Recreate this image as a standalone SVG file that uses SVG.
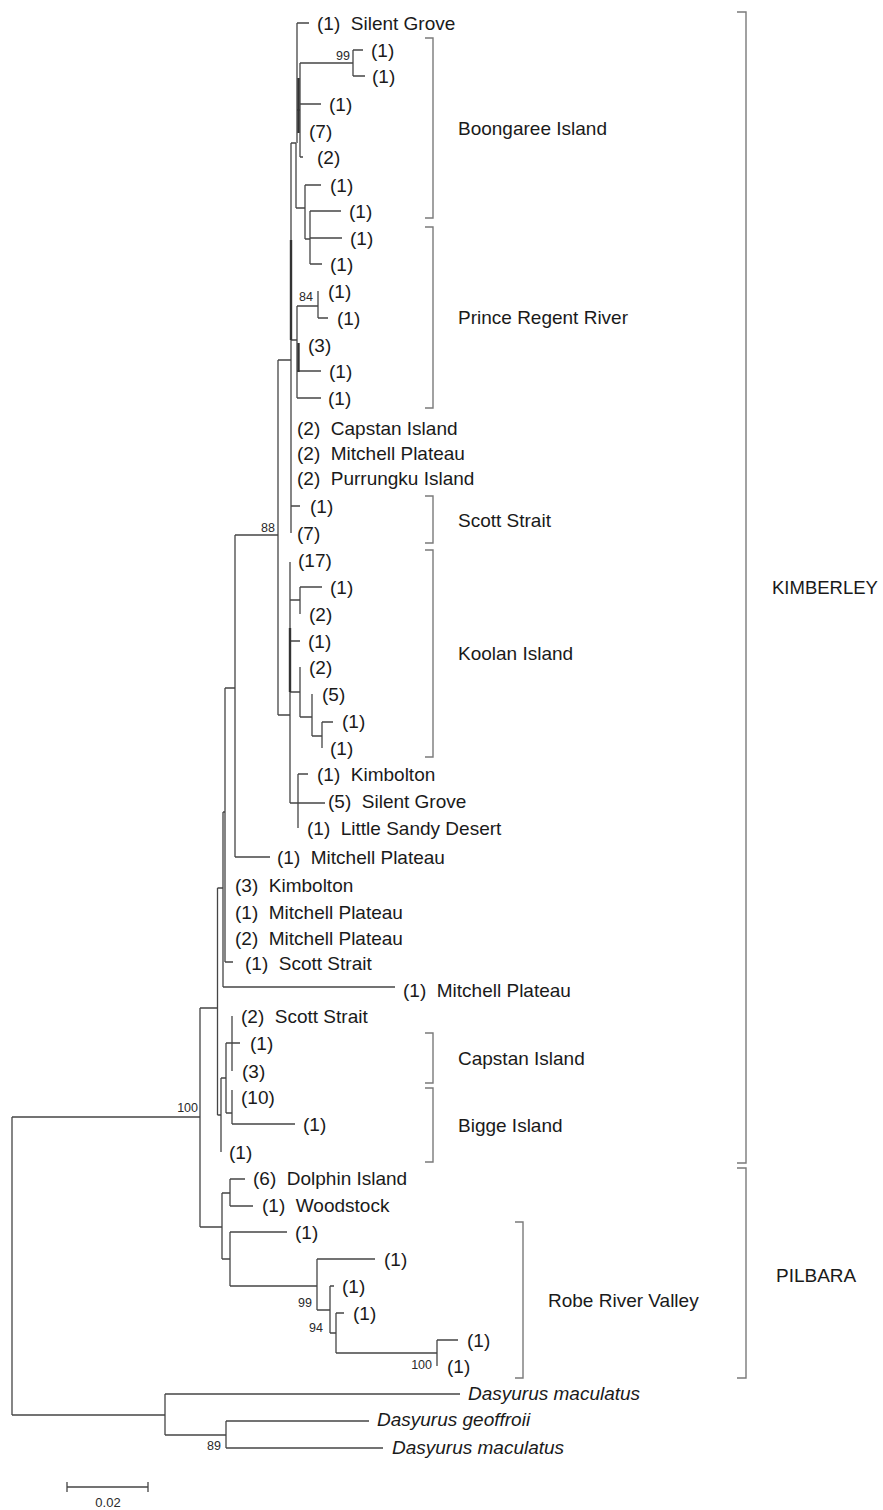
<svg xmlns="http://www.w3.org/2000/svg" width="883" height="1510" viewBox="0 0 883 1510">
<style>
.b{fill:none;stroke:#454545;stroke-width:1.3}
.bb{fill:none;stroke:#333;stroke-width:2.4}
.k{fill:none;stroke:#7a7a7a;stroke-width:1.4}
.t{font-family:"Liberation Sans",Arial,sans-serif;font-size:19px;fill:#1a1a1a;white-space:pre}
.i{font-style:italic}
.s{font-family:"Liberation Sans",Arial,sans-serif;font-size:12.5px;fill:#2a2a2a;text-anchor:end}
</style>
<rect width="883" height="1510" fill="#fff"/>
<g id="connectors">
<path class="b" d="M12,1117V1415M12,1117H200M12,1415H165"/>
<path class="b" d="M200,1008V1227M200,1008H217.5M200,1227H222"/>
<path class="b" d="M217.5,888V1115M217.5,888H223M217.5,1115H221"/>
<path class="b" d="M223,812V987M223,987H395M223,812H225"/>
<path class="b" d="M225,688V962M225,688H235M225,962H233"/>
<path class="b" d="M235,535V857M235,535H278M235,857H270"/>
<path class="b" d="M278,360V715M278,360H291M278,715H290"/>
<path class="b" d="M291,143V533M291,143H296M291,340H297M291,506H300"/>
<path class="bb" d="M291,240V340"/>
<path class="b" d="M297,23V143M297,23H309M297,110H300"/>
<path class="b" d="M300,63V157M300,104H321M300,157H303"/>
<path class="bb" d="M298.5,78V133"/>
<path class="b" d="M300,63H353M353,50V76M353,50H363M353,76H365"/>
<path class="b" d="M296,143V208M296,208H305"/>
<path class="b" d="M305,185V239M305,185H321M305,239H310"/>
<path class="b" d="M310,211V264M310,211H341M310,238H342M310,264H322"/>
<path class="b" d="M297,306V398M297,306H318M297,371H321M297,398H321"/>
<path class="bb" d="M298.5,343V372"/>
<path class="b" d="M318,291V318M318,318H328"/>
<path class="b" d="M290,562V803M290,600H300M290,641H300M290,692H300M290,803H325"/>
<path class="bb" d="M290,628V692"/>
<path class="b" d="M300,587V614M300,587H322"/>
<path class="b" d="M300,667V717M300,717H312"/>
<path class="b" d="M312,694V736M312,736H322"/>
<path class="b" d="M322,722V748M322,722H333"/>
<path class="b" d="M298,774V828M298,774H308"/>
<path class="b" d="M221,1078V1152M221,1078H226"/>
<path class="b" d="M226,1043V1113M226,1043H240M226,1113H232"/>
<path class="b" d="M232,1016V1071"/>
<path class="b" d="M232,1090V1124M232,1124H295"/>
<path class="b" d="M222,1193V1259M222,1193H230M222,1259H230"/>
<path class="b" d="M230,1179V1206M230,1179H245M230,1206H253"/>
<path class="b" d="M230,1232V1286M230,1232H287M230,1286H317"/>
<path class="b" d="M317,1259V1310M317,1259H375M317,1310H330"/>
<path class="b" d="M330,1286V1333M330,1286H334M330,1333H336"/>
<path class="b" d="M336,1313V1353M336,1313H344M336,1353H437"/>
<path class="b" d="M437,1340V1366M437,1340H458"/>
<path class="b" d="M165,1394V1435M165,1394H460M165,1435H226"/>
<path class="b" d="M226,1421V1448M226,1421H369M226,1448H383"/>
</g>
<g id="support">
<text class="s" x="350" y="60">99</text>
<text class="s" x="313" y="301">84</text>
<text class="s" x="275" y="532">88</text>
<text class="s" x="198" y="1112">100</text>
<text class="s" x="312" y="1307">99</text>
<text class="s" x="323" y="1332">94</text>
<text class="s" x="432" y="1369">100</text>
<text class="s" x="221" y="1450">89</text>
</g>
<g id="tips">
<text class="t" x="317" y="29.5">(1)  Silent Grove</text>
<text class="t" x="371" y="56.5">(1)</text>
<text class="t" x="372" y="82.5">(1)</text>
<text class="t" x="329" y="110.5">(1)</text>
<text class="t" x="309" y="137.5">(7)</text>
<text class="t" x="317" y="163.5">(2)</text>
<text class="t" x="330" y="191.5">(1)</text>
<text class="t" x="349" y="217.5">(1)</text>
<text class="t" x="350" y="244.5">(1)</text>
<text class="t" x="330" y="270.5">(1)</text>
<text class="t" x="328" y="297.5">(1)</text>
<text class="t" x="337" y="324.5">(1)</text>
<text class="t" x="308" y="351.5">(3)</text>
<text class="t" x="329" y="377.5">(1)</text>
<text class="t" x="328" y="404.5">(1)</text>
<text class="t" x="297" y="434.5">(2)  Capstan Island</text>
<text class="t" x="297" y="459.5">(2)  Mitchell Plateau</text>
<text class="t" x="297" y="484.5">(2)  Purrungku Island</text>
<text class="t" x="310" y="512.5">(1)</text>
<text class="t" x="297" y="539.5">(7)</text>
<text class="t" x="298" y="566.5">(17)</text>
<text class="t" x="330" y="593.5">(1)</text>
<text class="t" x="309" y="620.5">(2)</text>
<text class="t" x="308" y="647.5">(1)</text>
<text class="t" x="309" y="673.5">(2)</text>
<text class="t" x="322" y="700.5">(5)</text>
<text class="t" x="342" y="727.5">(1)</text>
<text class="t" x="330" y="754.5">(1)</text>
<text class="t" x="317" y="780.5">(1)  Kimbolton</text>
<text class="t" x="328" y="807.5">(5)  Silent Grove</text>
<text class="t" x="307" y="834.5">(1)  Little Sandy Desert</text>
<text class="t" x="277" y="863.5">(1)  Mitchell Plateau</text>
<text class="t" x="235" y="891.5">(3)  Kimbolton</text>
<text class="t" x="235" y="918.5">(1)  Mitchell Plateau</text>
<text class="t" x="235" y="944.5">(2)  Mitchell Plateau</text>
<text class="t" x="245" y="969.5">(1)  Scott Strait</text>
<text class="t" x="403" y="996.5">(1)  Mitchell Plateau</text>
<text class="t" x="241" y="1022.5">(2)  Scott Strait</text>
<text class="t" x="250" y="1049.5">(1)</text>
<text class="t" x="242" y="1077.5">(3)</text>
<text class="t" x="241" y="1103.5">(10)</text>
<text class="t" x="303" y="1130.5">(1)</text>
<text class="t" x="229" y="1158.5">(1)</text>
<text class="t" x="253" y="1184.5">(6)  Dolphin Island</text>
<text class="t" x="262" y="1211.5">(1)  Woodstock</text>
<text class="t" x="295" y="1238.5">(1)</text>
<text class="t" x="384" y="1265.5">(1)</text>
<text class="t" x="342" y="1292.5">(1)</text>
<text class="t" x="353" y="1319.5">(1)</text>
<text class="t" x="467" y="1346.5">(1)</text>
<text class="t" x="447" y="1372.5">(1)</text>
<text class="t i" x="468" y="1399.5">Dasyurus maculatus</text>
<text class="t i" x="377" y="1425.5">Dasyurus geoffroii</text>
<text class="t i" x="392" y="1453.5">Dasyurus maculatus</text>
</g>
<g id="clade-boongaree"><path class="k" d="M425,38H433V218H425"/><text class="t" x="458" y="134.5">Boongaree Island</text></g>
<g id="clade-prince-regent"><path class="k" d="M425,227H433V408H425"/><text class="t" x="458" y="323.5">Prince Regent River</text></g>
<g id="clade-scott"><path class="k" d="M425,496H433V543H425"/><text class="t" x="458" y="526.5">Scott Strait</text></g>
<g id="clade-koolan"><path class="k" d="M425,550H433V757H425"/><text class="t" x="458" y="659.5">Koolan Island</text></g>
<g id="clade-capstan"><path class="k" d="M425,1033H433V1083H425"/><text class="t" x="458" y="1064.5">Capstan Island</text></g>
<g id="clade-bigge"><path class="k" d="M425,1088H433V1162H425"/><text class="t" x="458" y="1131.5">Bigge Island</text></g>
<g id="clade-robe"><path class="k" d="M515,1222H523V1378H515"/><text class="t" x="548" y="1306.5">Robe River Valley</text></g>
<g id="region-kimberley"><path class="k" d="M737,12H746V1163H737"/><text class="t" x="772" y="593.5" style="font-size:18.5px">KIMBERLEY</text></g>
<g id="region-pilbara"><path class="k" d="M737,1168H746V1378H737"/><text class="t" x="776" y="1281.5">PILBARA</text></g>
<g id="scale-bar">
<path class="b" d="M67,1487H148M67,1482V1492M148,1482V1492"/>
<text style="font-family:'Liberation Sans',Arial,sans-serif;font-size:13px;fill:#2a2a2a" x="108" y="1507" text-anchor="middle">0.02</text>
</g>
</svg>
